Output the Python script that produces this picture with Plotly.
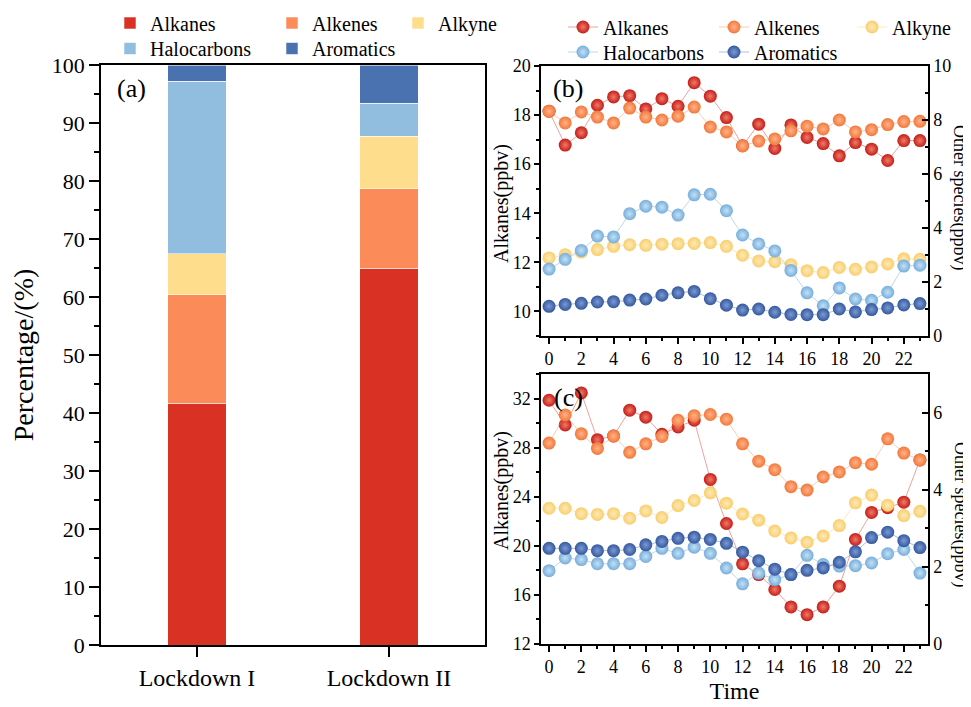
import plotly.graph_objects as go

# ---------------- data ----------------
periods = ["Lockdown I", "Lockdown II"]
groups = ["Alkanes", "Alkenes", "Alkyne", "Halocarbons", "Aromatics"]
share_alkanes = [41.7, 65.0]
share_alkenes = [18.7, 13.7]
share_alkyne = [7.1, 9.0]
share_halocarbons = [29.7, 5.7]
share_aromatics = [2.8, 6.6]

hours = list(range(24))

# panel (b) - Lockdown I diurnal
b_alkanes = [18.16, 16.78, 17.28, 18.40, 18.74, 18.79, 18.25, 18.67, 18.36, 19.32, 18.77, 17.90,
             16.75, 17.63, 16.64, 17.60, 17.09, 16.84, 16.34, 16.88, 16.61, 16.15, 16.96, 16.96]
b_alkenes = [8.32, 7.89, 8.30, 8.11, 7.89, 8.44, 8.11, 8.00, 8.14, 8.48, 7.74, 7.56,
             7.04, 7.22, 7.30, 7.60, 7.77, 7.67, 8.00, 7.56, 7.64, 7.83, 7.94, 7.95]
b_alkyne = [2.89, 3.01, 3.11, 3.20, 3.32, 3.38, 3.36, 3.40, 3.42, 3.43, 3.46, 3.32,
            2.99, 2.78, 2.75, 2.64, 2.42, 2.35, 2.54, 2.47, 2.56, 2.67, 2.86, 2.84]
b_halocarbons = [2.48, 2.84, 3.17, 3.70, 3.67, 4.53, 4.81, 4.77, 4.48, 5.23, 5.25, 4.64,
                 3.74, 3.41, 3.15, 2.43, 1.60, 1.12, 1.78, 1.37, 1.32, 1.62, 2.59, 2.62]
b_aromatics = [1.10, 1.17, 1.21, 1.26, 1.27, 1.33, 1.37, 1.51, 1.60, 1.65, 1.38, 1.14,
               0.96, 1.00, 0.88, 0.80, 0.79, 0.79, 1.00, 0.89, 0.98, 1.04, 1.15, 1.20]

# panel (c) - Lockdown II diurnal
c_alkanes = [31.86, 29.85, 32.46, 28.65, 28.95, 31.05, 30.48, 29.09, 29.69, 30.23, 25.41, 21.82,
             18.53, 17.66, 16.44, 15.02, 14.39, 15.02, 16.71, 20.52, 22.72, 23.10, 23.56, 27.00]
c_alkenes = [5.21, 5.94, 5.45, 5.07, 5.39, 4.97, 5.19, 5.38, 5.80, 5.92, 5.95, 5.83,
             5.19, 4.74, 4.52, 4.08, 3.99, 4.33, 4.46, 4.70, 4.66, 5.32, 4.95, 4.77]
c_alkyne = [3.52, 3.52, 3.38, 3.36, 3.38, 3.26, 3.45, 3.28, 3.59, 3.72, 3.92, 3.65,
            3.37, 3.21, 2.93, 2.75, 2.64, 2.80, 3.07, 3.66, 3.86, 3.60, 3.33, 3.44]
c_halocarbons = [1.90, 2.23, 2.19, 2.08, 2.08, 2.08, 2.27, 2.48, 2.35, 2.51, 2.35, 1.97,
                 1.56, 1.84, 1.67, 1.80, 2.30, 2.06, 2.02, 2.03, 2.10, 2.34, 2.45, 1.84]
c_aromatics = [2.48, 2.48, 2.48, 2.42, 2.42, 2.45, 2.57, 2.66, 2.74, 2.77, 2.71, 2.61,
               2.38, 2.16, 1.94, 1.80, 1.91, 1.97, 2.12, 2.39, 2.76, 2.90, 2.68, 2.50]

# ---------------- styles ----------------
FONT = "Liberation Serif"
bar_colors = ["#DA3125", "#FC8B5A", "#FEDD8D", "#91BEDF", "#4A72B0"]
edge_colors = ["#C41E16", "#F27839", "#F9CD6C", "#76AEDB", "#34589F"]
core_colors = ["#F07A6C", "#FFB28A", "#FFEBB8", "#C4E0F5", "#7C9AD2"]
line_colors = ["rgba(218,49,37,0.45)", "rgba(252,139,90,0.45)", "rgba(254,221,141,0.6)",
               "rgba(145,190,223,0.6)", "rgba(74,114,176,0.45)"]

shares = [share_alkanes, share_alkenes, share_alkyne, share_halocarbons, share_aromatics]
b_series = [b_alkanes, b_alkenes, b_alkyne, b_halocarbons, b_aromatics]
c_series = [c_alkanes, c_alkenes, c_alkyne, c_halocarbons, c_aromatics]

fig = go.Figure()

bar_legends = ["legend", "legend2", "legend3", "legend4", "legend5"]
line_legends = ["legend6", "legend7", "legend8", "legend9", "legend10"]

for i, g in enumerate(groups):
    fig.add_trace(go.Bar(
        x=periods, y=shares[i], name=g, marker=dict(color=bar_colors[i],
        line=dict(color="rgba(255,255,255,0.55)", width=1)),
        xaxis="x", yaxis="y", legend=bar_legends[i]))

MS = 13
for i, g in enumerate(groups):
    yax = "y2" if i == 0 else "y3"
    fig.add_trace(go.Scatter(
        x=hours, y=b_series[i], name=g, mode="lines+markers",
        line=dict(color=line_colors[i], width=1),
        marker=dict(size=MS, color=edge_colors[i],
                    gradient=dict(type="radial", color=core_colors[i]),
                    line=dict(width=0)),
        xaxis="x2", yaxis=yax, legend=line_legends[i]))

for i, g in enumerate(groups):
    yax = "y4" if i == 0 else "y5"
    fig.add_trace(go.Scatter(
        x=hours, y=c_series[i], name=g, mode="lines+markers", showlegend=False,
        line=dict(color=line_colors[i], width=1),
        marker=dict(size=MS, color=edge_colors[i],
                    gradient=dict(type="radial", color=core_colors[i]),
                    line=dict(width=0)),
        xaxis="x3", yaxis=yax))

W, H = 971, 707
OFF = 8  # page body offset of the rendered figure
def px_x(v):
    return (v - OFF) / W
def px_y(v):
    return 1 - (v - OFF) / H

axis_common = dict(showline=True, linecolor="black", linewidth=1.5, showgrid=False,
                   zeroline=False, tickcolor="black", tickwidth=1.5,
                   tickfont=dict(family=FONT, size=18, color="black"))

def label(text, x, y, size, angle=0):
    return dict(text=text, x=px_x(x), y=px_y(y), xref="paper", yref="paper", showarrow=False,
                xanchor="center", yanchor="middle", textangle=angle,
                font=dict(family=FONT, size=size, color="black"))

layout = dict(
    width=W, height=H, autosize=False,
    margin=dict(l=0, r=0, t=0, b=0, autoexpand=False),
    paper_bgcolor="white", plot_bgcolor="white",
    barmode="stack", bargap=0.693,
    font=dict(family=FONT, color="black"),
    xaxis=dict(axis_common, domain=[px_x(101), px_x(485)], anchor="y", type="category",
               range=[-0.5, 1.5], ticks="outside", ticklen=10, mirror=True,
               tickfont=dict(family=FONT, size=24, color="black")),
    yaxis=dict(axis_common, domain=[px_y(645), px_y(65)], anchor="x", range=[0, 100],
               dtick=10, ticks="outside", ticklen=10, mirror=True,
               tickfont=dict(family=FONT, size=22, color="black"),
               minor=dict(dtick=5, ticks="outside", ticklen=5, tickcolor="black", tickwidth=1.5),
               title=dict(text="Percentage/(%)", font=dict(family=FONT, size=28), standoff=14)),
    xaxis2=dict(axis_common, domain=[px_x(541), px_x(928)], anchor="y2", range=[-0.5, 23.5],
                tick0=0, dtick=2, ticks="outside", ticklen=6, mirror=True,
                minor=dict(dtick=1, ticks="outside", ticklen=3, tickcolor="black", tickwidth=1.5)),
    yaxis2=dict(axis_common, domain=[px_y(336), px_y(66)], anchor="x2", range=[9, 20],
                tick0=10, dtick=2, ticks="outside", ticklen=5,
                minor=dict(dtick=1, ticks="outside", ticklen=3, tickcolor="black", tickwidth=1.5)),
    yaxis3=dict(axis_common, overlaying="y2", side="right", anchor="x2", range=[0, 10],
                tick0=0, dtick=2, ticks="inside", ticklen=6,
                minor=dict(dtick=1, ticks="inside", ticklen=3, tickcolor="black", tickwidth=1.5)),
    xaxis3=dict(axis_common, domain=[px_x(541), px_x(928)], anchor="y4", range=[-0.5, 23.5],
                tick0=0, dtick=2, ticks="outside", ticklen=6, mirror=True,
                minor=dict(dtick=1, ticks="outside", ticklen=3, tickcolor="black", tickwidth=1.5),
                title=dict(text="Time", font=dict(family=FONT, size=24), standoff=6)),
    yaxis4=dict(axis_common, domain=[px_y(644), px_y(374)], anchor="x3", range=[12, 34],
                tick0=12, dtick=4, ticks="outside", ticklen=5,
                minor=dict(dtick=2, ticks="outside", ticklen=3, tickcolor="black", tickwidth=1.5)),
    yaxis5=dict(axis_common, overlaying="y4", side="right", anchor="x3", range=[0, 7],
                tick0=0, dtick=2, ticks="inside", ticklen=6,
                minor=dict(dtick=1, ticks="inside", ticklen=3, tickcolor="black", tickwidth=1.5)),
    annotations=[
        label("(a)", 131, 88, 26),
        label("(b)", 568, 88, 26),
        label("(c)", 568, 397, 26),
        label("Alkanes(ppbv)", 501, 204, 20, -90),
        label("Alkanes(ppbv)", 501, 491, 20, -90),
        label("Other species(ppbv)", 960, 197, 18, 90),
        label("Other species(ppbv)", 960, 514, 18, 90),
    ],
)

# legend placement (text start px, row centre px)
bar_leg_pos = [(152, 23), (314, 23), (440, 23), (152, 48.5), (314, 48.5)]
line_leg_pos = [(605, 27), (756, 27), (894, 27), (605, 52), (756, 52)]
for name, (tx, ty) in zip(bar_legends, bar_leg_pos):
    layout[name] = dict(x=px_x(tx - 42), y=px_y(ty), xanchor="left", yanchor="middle",
                        bgcolor="rgba(0,0,0,0)", font=dict(family=FONT, size=20, color="black"))
for name, (tx, ty) in zip(line_legends, line_leg_pos):
    layout[name] = dict(x=px_x(tx - 42), y=px_y(ty), xanchor="left", yanchor="middle",
                        bgcolor="rgba(0,0,0,0)", font=dict(family=FONT, size=20, color="black"))

fig.update_layout(**layout)
fig.write_html("out.html")
